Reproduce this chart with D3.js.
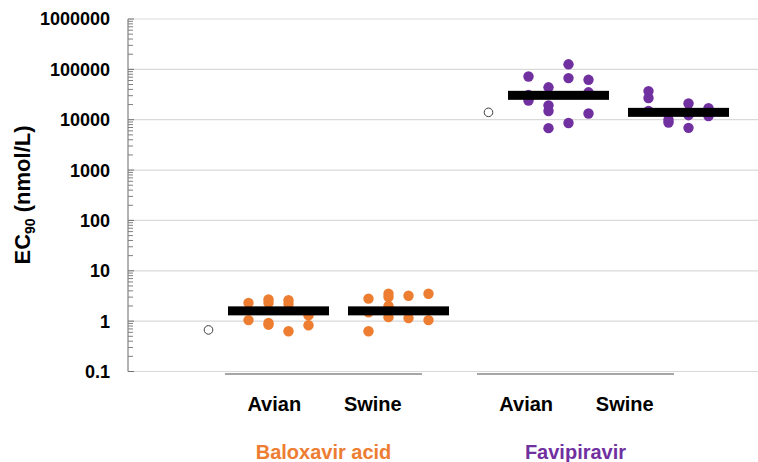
<!DOCTYPE html>
<html>
<head>
<meta charset="utf-8">
<script src="https://cdn.jsdelivr.net/npm/d3@7"></script>
<style>
  body { margin: 0; background: #fff; }
  svg { display: block; font-family: "Liberation Sans", Arial, sans-serif; }
</style>
</head>
<body>
<div id="chart"></div>
<script>
// drugs and virus types
const drugs = ["Baloxavir acid", "Favipiravir"];
const drugColors = ["#ED7D31", "#7030A0"];
const viruses = ["Avian", "Swine"];
const yTicks = [0.1, 1, 10, 100, 1000, 10000, 100000, 1000000];

// EC90 values, each inner list is one dot column (left to right)
const baloAvian = [[2.3, 1.05], [2.7, 2.3, 0.92, 0.85], [2.6, 2.2, 0.63], [1.3, 0.83]];
const baloSwine = [[2.8, 1.5, 0.63], [3.5, 3.0, 2.0, 1.2], [3.2, 1.15], [3.5, 1.05]];
const favAvian = [[72000, 31000, 24000], [44000, 19300, 14900, 6800], [126000, 67000, 8600], [62000, 35000, 13300]];
const favSwine = [[37000, 27000, 15000], [10000, 8800], [21000, 12300, 6900], [17000, 11800]];

// medians (black bars) and the open control circles
const baloMedians = [1.6, 1.6];
const favMedians = [30500, 14000];
const controls = [0.67, 14000];

const series = [
  { drug: 0, virus: 0, cols: baloAvian, median: baloMedians[0] },
  { drug: 0, virus: 1, cols: baloSwine, median: baloMedians[1] },
  { drug: 1, virus: 0, cols: favAvian, median: favMedians[0] },
  { drug: 1, virus: 1, cols: favSwine, median: favMedians[1] }
];

const W = 758, H = 462;
const svg = d3.select("#chart").append("svg").attr("width", W).attr("height", H);

const y = d3.scaleLog().domain([0.1, 1000000]).range([371.5, 19]);

// data position: slots 0,3 for baloxavir, 7,10 for favipiravir
const slot = [[0, 3], [7, 10]];
const controlSlot = [-1.75, 5.25];
const xd = d3.scaleLinear().domain([0, 10]).range([278.5, 678.5]);
const colOffset = d3.scalePoint().domain([0, 1, 2, 3]).range([-0.75, 0.75]);
const barHalf = 1.2625;

// category axis (separate bands under each drug)
const xg = d3.scaleBand().domain(drugs).range([225, 674]).paddingInner(0.218);

const axisX = 128;

// gridlines
svg.append("g").selectAll("line").data(yTicks).join("line")
  .attr("x1", axisX).attr("x2", W)
  .attr("y1", d => y(d)).attr("y2", d => y(d))
  .attr("stroke", "#d9d9d9").attr("stroke-width", 1.2);

// y axis with minor ticks
const minor = [];
for (let e = -1; e < 6; e++) for (let m = 2; m < 10; m++) minor.push(m * Math.pow(10, e));
const yAxis = svg.append("g").attr("transform", `translate(${axisX},0)`);
yAxis.selectAll("line.minor").data(minor).join("line").attr("class", "minor")
  .attr("x1", 0).attr("x2", 5)
  .attr("y1", d => y(d)).attr("y2", d => y(d))
  .attr("stroke", "#707070").attr("stroke-width", 0.9);
yAxis.selectAll("line.major").data(yTicks).join("line").attr("class", "major")
  .attr("x1", 0).attr("x2", 6)
  .attr("y1", d => y(d)).attr("y2", d => y(d))
  .attr("stroke", "#707070").attr("stroke-width", 1);
yAxis.append("line").attr("x1", 0).attr("x2", 0)
  .attr("y1", y(1000000)).attr("y2", y(0.1))
  .attr("stroke", "#808080").attr("stroke-width", 1.2);
yAxis.selectAll("text").data(yTicks).join("text")
  .attr("x", -18).attr("y", d => y(d)).attr("dy", "0.36em")
  .attr("text-anchor", "end").attr("font-size", 18).attr("font-weight", "bold")
  .text(d => d3.format("~f")(d));

// y label
const yl = svg.append("text")
  .attr("transform", "translate(30,195) rotate(-90)")
  .attr("text-anchor", "middle").attr("font-size", 22).attr("font-weight", "bold");
yl.append("tspan").text("EC");
yl.append("tspan").attr("font-size", 14).attr("dy", 5).text("90");
yl.append("tspan").attr("dy", -5).text(" (nmol/L)");

// category axis lines + labels
drugs.forEach((d, i) => {
  svg.append("line")
    .attr("x1", xg(d)).attr("x2", xg(d) + xg.bandwidth())
    .attr("y1", 374).attr("y2", 374)
    .attr("stroke", "#a6a6a6").attr("stroke-width", 2);
  viruses.forEach((v, j) => {
    svg.append("text")
      .attr("x", xg(d) + xg.bandwidth() * (j === 0 ? 0.25 : 0.75))
      .attr("y", 411).attr("text-anchor", "middle")
      .attr("font-size", 20).attr("font-weight", "bold").text(v);
  });
  svg.append("text")
    .attr("x", xg(d) + xg.bandwidth() / 2).attr("y", 459)
    .attr("text-anchor", "middle").attr("font-size", 20).attr("font-weight", "bold")
    .attr("fill", drugColors[i]).text(d);
});

// dots
series.forEach(s => {
  const pts = [];
  s.cols.forEach((vals, c) => vals.forEach(v => pts.push({ c, v })));
  const cx = slot[s.drug][s.virus];
  svg.append("g").selectAll("circle").data(pts).join("circle")
    .attr("cx", p => xd(cx + colOffset(p.c)))
    .attr("cy", p => y(p.v))
    .attr("r", 5.2)
    .attr("fill", drugColors[s.drug]);
});

// median bars
series.forEach(s => {
  const cx = slot[s.drug][s.virus];
  svg.append("rect")
    .attr("x", xd(cx - barHalf)).attr("width", xd(cx + barHalf) - xd(cx - barHalf))
    .attr("y", y(s.median) - 4.5).attr("height", 9)
    .attr("fill", "#000");
});

// open control circles
svg.append("g").selectAll("circle").data(controls).join("circle")
  .attr("cx", (d, i) => xd(controlSlot[i])).attr("cy", d => y(d))
  .attr("r", 4.3).attr("fill", "#fff").attr("stroke", "#404040").attr("stroke-width", 1);
</script>
</body>
</html>
